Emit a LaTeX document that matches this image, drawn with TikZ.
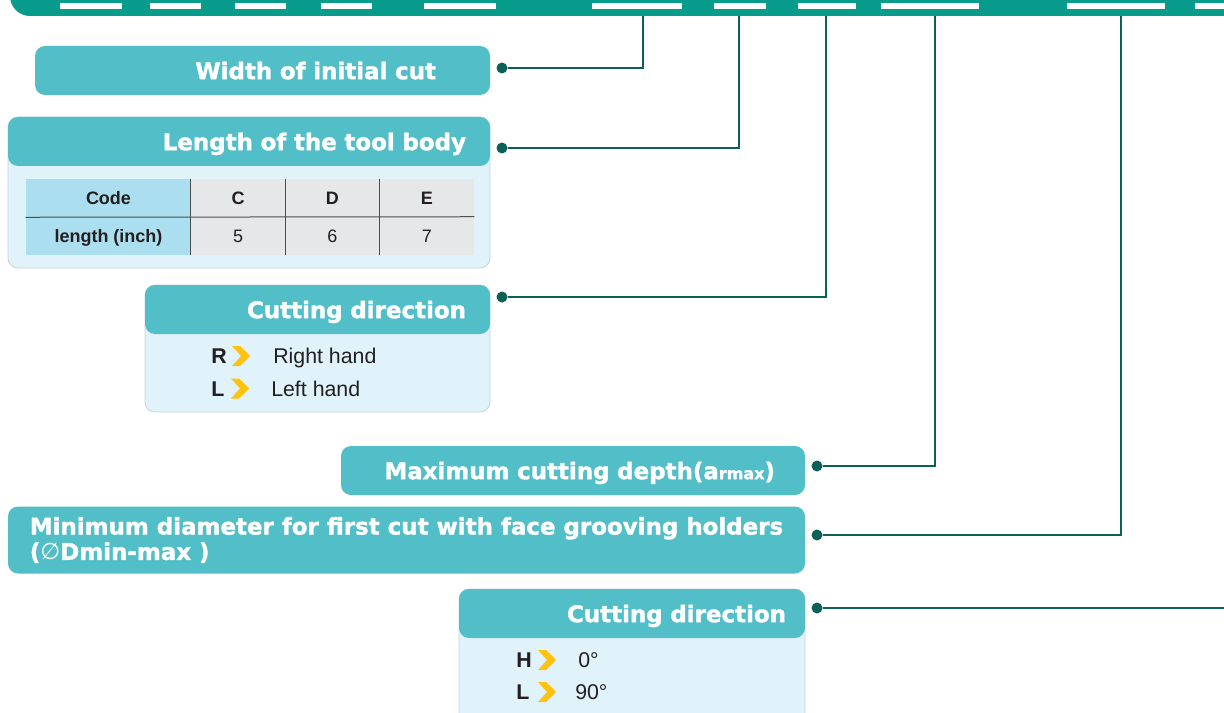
\documentclass[tikz,border=0pt]{standalone}
\usepackage{fontspec}
\setmainfont{Liberation Sans}
\newfontfamily\headfont{DejaVu Sans}[BoldFeatures={FakeBold=1.5}]
\usetikzlibrary{positioning}
\definecolor{BarTeal}{HTML}{079B8B}
\definecolor{HeadTeal}{HTML}{52BEC8}
\definecolor{LineTeal}{HTML}{0B6158}
\definecolor{PanelBlue}{HTML}{E0F2FA}
\definecolor{PanelEdge}{HTML}{C6D4D9}
\definecolor{CodeBlue}{HTML}{ABDFEF}
\definecolor{CellGray}{HTML}{E6E7E8}
\definecolor{RuleGray}{HTML}{4D4D4D}
\definecolor{ChevYellow}{HTML}{FFC20E}
\definecolor{TextBlack}{HTML}{231F20}

\begin{document}
\begin{tikzpicture}[x=0.75pt, y=-0.75pt,
    headbox/.style={rectangle, rounded corners=7.5pt, fill=HeadTeal, text=white,
                 font=\headfont\bfseries\fontsize{17.2}{19}\selectfont,
                 inner sep=0pt, minimum height=36.75pt},
    head/.style={headbox, text height=13pt, text depth=0pt},
    panel/.style={rectangle, rounded corners=7.5pt, fill=PanelBlue, draw=PanelEdge,
                  line width=0.6pt, inner sep=0pt},
    cell/.style={rectangle, inner sep=0pt, minimum width=70.75pt, minimum height=28.5pt,
                 text height=9.7pt, text depth=0pt,
                 fill=CellGray, text=TextBlack, font=\fontsize{13.5}{16}\selectfont},
    item/.style={inner sep=0pt, anchor=base west, text=TextBlack,
                 font=\fontsize{16}{19}\selectfont},
    key/.style={item, font=\fontsize{16}{19}\selectfont\bfseries},
    dot/.style={circle, fill=LineTeal, inner sep=0pt, minimum size=8.25pt},
    conn/.style={draw=LineTeal, line width=1.8pt},
    rule/.style={draw=RuleGray, line width=0.75pt},
    chev/.pic={\fill[ChevYellow] (0,-10) -- (8,-10) -- (18,0) -- (8,10) -- (0,10) -- (9,0) -- cycle;}
  ]
  \useasboundingbox (0,0) rectangle (1224,713);
  \clip (0,0) rectangle (1224,713);

  % top bar
  \fill[BarTeal, rounded corners=15pt] (10,-40) rectangle (1260,16);
  \foreach \a/\b in {60/122,150/201,235/286,321/372,424/496,592/682,714/766,798/856,881/979,1067/1165,1195/1240}
    \fill[white] (\a,3.5) rectangle (\b,9);

  % labels
  \node[head, minimum width=341.25pt, text width=260.25pt, align=right] (h1) at (262.5,70.5) {Width of initial cut};

  \node[panel, minimum width=361.5pt, minimum height=113.25pt] (pn2) at (249,192.5) {};
  \node[head, minimum width=361.5pt, text width=325.5pt, align=right] (h2) at (249,141.5) {Length of the tool body};

  % length table
  \node[cell, fill=CodeBlue, minimum width=123.75pt, font=\fontsize{13.5}{16}\selectfont\bfseries] (code) at (108.5,198) {Code};
  \node[cell, fill=CodeBlue, minimum width=123.75pt, font=\fontsize{13.5}{16}\selectfont\bfseries] (len) at (108.5,236) {length (inch)};
  \foreach \cd/\val [count=\i] in {C/5,D/6,E/7}{
    \node[cell] (c\i) at ({191+94.33*(\i-0.5)},198) {\textbf{\cd}};
    \node[cell] (v\i) at ({191+94.33*(\i-0.5)},236) {\val};
  }
  \draw[rule] (code.south west) -- (v3.north east);
  \foreach \i in {1,2,3}
    \draw[rule] (c\i.north west) -- (v\i.south west);

  \node[panel, minimum width=258.75pt, minimum height=95.25pt] (pn3) at (317.5,348.5) {};
  \node[head, minimum width=258.75pt, text width=222.75pt, align=right] (h3) at (317.5,309.5) {Cutting direction};
  \node[key] (kR) at (211,363.5) {R};
  \pic at (232,356) {chev};
  \node[item] (vR) at (273,363.5) {Right hand};
  \node[key] (kL) at (211,396) {L};
  \pic at (231,388.5) {chev};
  \node[item] (vL) at (271,396) {Left hand};

  \node[head, minimum width=348pt, text width=303pt, align=right] (h4) at (573,470.5)
    {Maximum cutting depth(a{\fontsize{12}{12}\selectfont rmax})};

  \node[headbox, minimum width=597.75pt, minimum height=50.25pt, align=left] (h5) at (406.5,540)
    {Minimum diameter for first cut with face grooving holders\\({\mdseries ∅}Dmin-max )};

  \node[panel, minimum width=259.5pt, minimum height=102pt] (pn6) at (632,657) {};
  \node[head, minimum width=259.5pt, text width=231pt, align=right] (h6) at (632,613.5) {Cutting direction};
  \node[key] (kH) at (516,667.5) {H};
  \pic at (538,660) {chev};
  \node[item] (vH) at (578,667.5) {0°};
  \node[key] (kL2) at (516,699.5) {L};
  \pic at (538,692) {chev};
  \node[item] (vL2) at (575,699.5) {90°};

  % connectors
  \node[dot] (d1) at (502,68) {};
  \node[dot] (d2) at (502,148) {};
  \node[dot] (d3) at (502,297) {};
  \node[dot] (d4) at (817,466) {};
  \node[dot] (d5) at (817,535) {};
  \node[dot] (d6) at (817,608) {};
  \coordinate (t1) at (643,16);
  \coordinate (t2) at (739,16);
  \coordinate (t3) at (826,16);
  \coordinate (t4) at (935,16);
  \coordinate (t5) at (1121,16);
  \coordinate (e6) at (1224,608);
  \draw[conn] (d1) -| (t1);
  \draw[conn] (d2) -| (t2);
  \draw[conn] (d3) -| (t3);
  \draw[conn] (d4) -| (t4);
  \draw[conn] (d5) -| (t5);
  \draw[conn] (d6) -- (e6);
\end{tikzpicture}
\end{document}
